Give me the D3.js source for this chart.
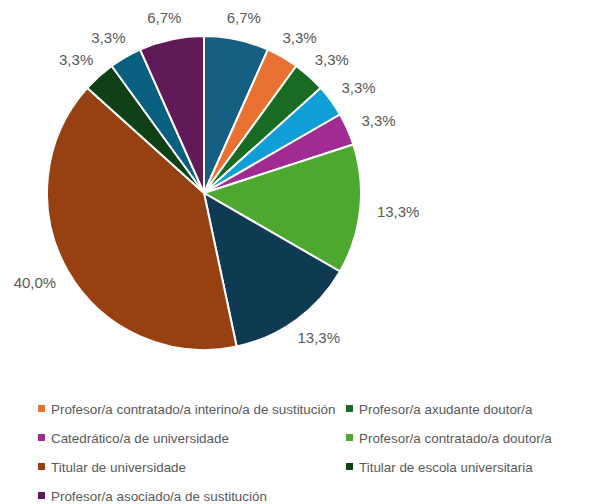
<!DOCTYPE html>
<meta charset="utf-8">
<html>
<head>
<script src="https://cdn.jsdelivr.net/npm/d3@7"></script>
<style>
body { margin: 0; background: #fff; }
text { font-family: "Liberation Sans", Arial, sans-serif; fill: #595959; }
</style>
</head>
<body>
<div id="chart"></div>
<script>
// slices clockwise from 12 o'clock (counts of 30)
var counts = [2, 1, 1, 1, 1, 4, 4, 12, 1, 1, 2];
var colors = ["#156082", "#E97132", "#196B24", "#0F9ED5", "#A02B93", "#4EA72E",
              "#0E3A52", "#974012", "#0F4016", "#095F80", "#601A58"];
var pctLabels = ["6,7%", "3,3%", "3,3%", "3,3%", "3,3%", "13,3%", "13,3%", "40,0%", "3,3%", "3,3%", "6,7%"];

// visible part of the legend (index into slices)
var legendIdx = [1, 2, 4, 5, 7, 8, 10];
var legendNames = [
  "Profesor/a contratado/a interino/a de sustitución",
  "Profesor/a axudante doutor/a",
  "Catedrático/a de universidade",
  "Profesor/a contratado/a doutor/a",
  "Titular de universidade",
  "Titular de escola universitaria",
  "Profesor/a asociado/a de sustitución"
];

var W = 611, H = 504;
var cx = 204, cy = 193, r = 157;

var svg = d3.select("#chart").append("svg")
    .attr("width", W).attr("height", H);

var pie = d3.pie().sort(null).value(function (d) { return d; });
var arcs = pie(counts);
var arc = d3.arc().innerRadius(0).outerRadius(r);

var g = svg.append("g").attr("transform", "translate(" + cx + "," + cy + ")");

g.selectAll("path")
  .data(arcs)
  .enter().append("path")
  .attr("d", arc)
  .attr("fill", function (d, i) { return colors[i]; })
  .attr("stroke", "#fff")
  .attr("stroke-width", 2)
  .attr("stroke-linejoin", "round");

// labels outside end
var lab = g.selectAll("text.lbl")
  .data(arcs)
  .enter().append("text")
  .attr("class", "lbl")
  .style("font-size", "15px")
  .text(function (d, i) { return pctLabels[i]; });

lab.each(function (d) {
  var a = (d.startAngle + d.endAngle) / 2;
  var dx = Math.sin(a), dy = -Math.cos(a);
  var bb = this.getBBox();
  var px = dx * (r + 17) + dx * bb.width / 2;
  var py = dy * (r + 14) + dy * 8;
  d3.select(this)
    .attr("x", px)
    .attr("y", py)
    .attr("text-anchor", "middle")
    .attr("dominant-baseline", "central");
});

// legend
var legend = svg.append("g");
var item = legend.selectAll("g")
  .data(legendNames)
  .enter().append("g")
  .attr("transform", function (d, i) {
    var col = i % 2, row = Math.floor(i / 2);
    return "translate(" + (col === 0 ? 38 : 346) + "," + (409 + row * 29) + ")";
  });
item.append("rect")
  .attr("x", 0).attr("y", -4).attr("width", 7).attr("height", 7)
  .attr("fill", function (d, i) { return colors[legendIdx[i]]; });
item.append("text")
  .attr("x", 13).attr("y", 0)
  .attr("dominant-baseline", "central")
  .style("font-size", "13.4px")
  .text(function (d) { return d; });
</script>
</body>
</html>
